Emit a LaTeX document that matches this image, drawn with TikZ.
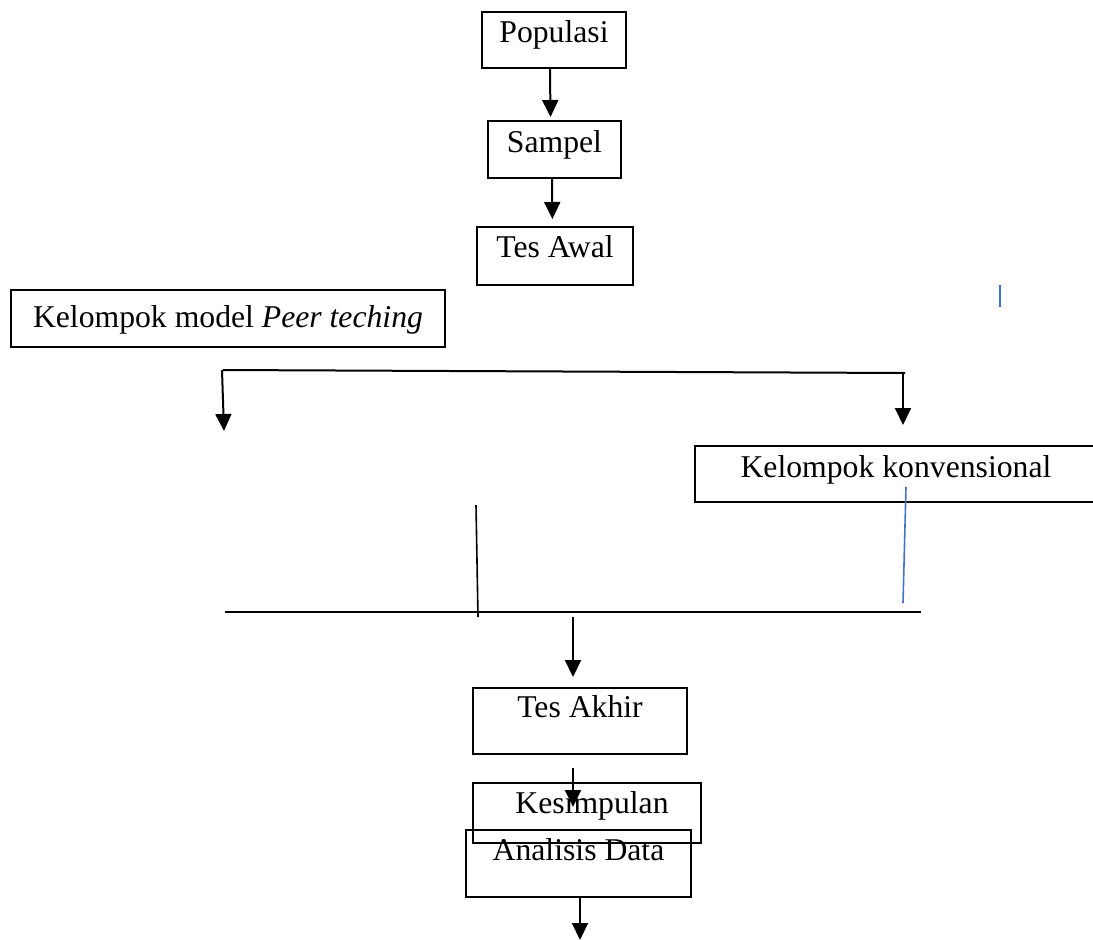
\documentclass[tikz,border=0pt]{standalone}
\usepackage{fontspec}
\setmainfont{Liberation Serif}
\usetikzlibrary{arrows.meta}
\definecolor{wordblue}{RGB}{68,114,196}
\begin{document}
\begin{tikzpicture}[x=1pt,y=-1pt,
  box/.style={draw, line width=2pt, inner sep=0pt, font=\fontsize{31.7}{38}\selectfont},
  flow/.style={line width=2pt, -{Triangle[width=16pt,length=17pt]}},
  rulebar/.style={line width=2pt},
  blueline/.style={draw=wordblue, line width=1.6pt}]
\clip (0,0) rectangle (1093,940);
% boxes
\node[box, minimum width=144pt, text height=30pt, text depth=26pt] (pop) at (554,40) {Populasi};
\node[box, minimum width=133pt, text height=31pt, text depth=26pt] (sam) at (554.5,149.5) {Sampel};
\node[box, minimum width=156pt, text height=30pt, text depth=28pt] (awal) at (555,256) {Tes Awal};
\node[box, minimum width=434pt, text height=37pt, text depth=20pt] (peer) at (228,318.5) {Kelompok model \textit{Peer teching}};
\node[box, minimum width=402pt, text height=31pt, text depth=25pt] (konv) at (896,474) {Kelompok konvensional};
\node[box, minimum width=214pt, text height=29pt, text depth=37pt] (akhir) at (580,721) {Tes Akhir};
\node[box, minimum width=228pt, text height=30pt, text depth=30pt] (kes) at (587,813) {\hspace{10pt}Kesimpulan};
\node[box, minimum width=225pt, text height=30pt, text depth=37pt] (anal) at (578.5,863.5) {Analisis Data};
% free ends
\coordinate (splitl) at (223,370);
\coordinate (splitr) at (905,373);
\coordinate (splitrx) at (903,373);
\coordinate (leftend) at (224,431);
\coordinate (mergel) at (225,612);
\coordinate (merger) at (921,612);
\coordinate (mergeout) at (573,617);
\coordinate (bartop) at (476,505);
\coordinate (barbot) at (478,617);
\coordinate (bluetop) at (906,487);
\coordinate (bluebot) at (903,603);
\coordinate (markA) at (1000,285);
\coordinate (markB) at (1000,307);
\coordinate (kesin) at (573,807);
\coordinate (endpt) at (580,940);
% connectors
\draw[flow, shorten >=3pt] ([xshift=-4pt]pop.south) -- ([xshift=-4pt]sam.north);
\draw[flow, shorten >=7pt] ([xshift=-2.5pt]sam.south) -- ([xshift=-2.5pt]awal.north);
\draw[rulebar] (splitl) -- (splitr);
\draw[flow] ([xshift=-1pt]splitl) -- (leftend);
\draw[flow, shorten >=20pt] (splitrx) -- (splitrx |- konv.north);
\draw[rulebar] (mergel) -- (merger);
\draw[line width=1.6pt] (bartop) -- (barbot);
\draw[blueline] (bluetop) -- (bluebot);
\draw[blueline] (markA) -- (markB);
\draw[flow, shorten >=10pt] (mergeout) -- (mergeout |- akhir.north);
\draw[flow, shorten <=13pt] ([xshift=-7pt]akhir.south) -- (kesin);
\draw[flow] ([xshift=1.5pt]anal.south) -- (endpt);
\end{tikzpicture}
\end{document}
